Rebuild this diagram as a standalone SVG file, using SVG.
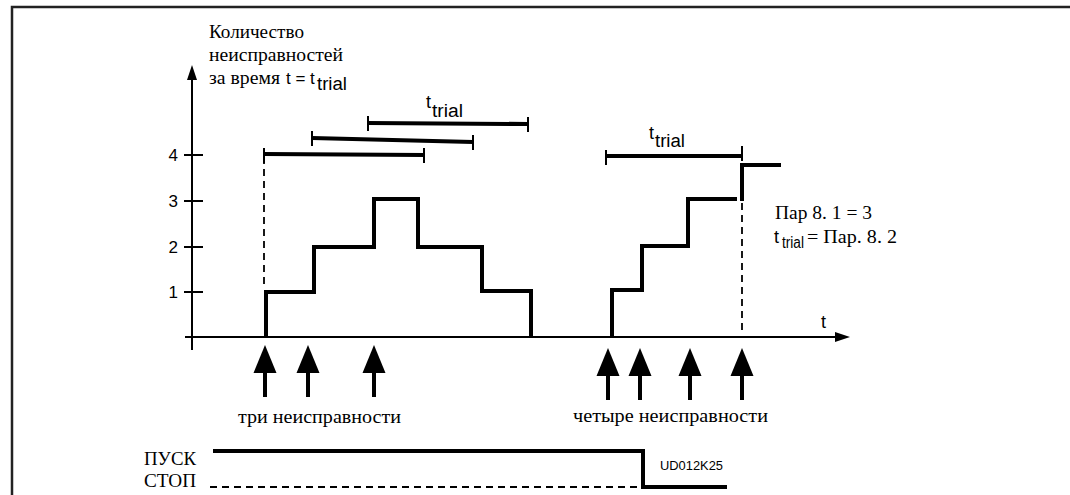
<svg xmlns="http://www.w3.org/2000/svg" xmlns:xlink="http://www.w3.org/1999/xlink" width="1070" height="495" viewBox="0 0 1070 495">
<style>
.ser{font-family:'Liberation Serif','Times New Roman',serif;font-size:18px;fill:#000}
.sans{font-family:'Liberation Sans',Arial,sans-serif;fill:#000}
.thick{fill:none;stroke:#000;stroke-width:4;stroke-linejoin:miter;stroke-linecap:butt}
.thin{fill:none;stroke:#000;stroke-width:2}
.dash{fill:none;stroke:#000;stroke-width:1.8;stroke-dasharray:7,5}
</style>
<defs>
<g id="evt">
<polygon points="-11.5,28 11.5,28 0,0" fill="#000"/>
<line x1="0" y1="26" x2="0" y2="52" stroke="#000" stroke-width="4"/>
</g>
<g id="cap"><line x1="0" y1="-7" x2="0" y2="8" stroke="#000" stroke-width="2"/></g>
</defs>
<rect width="1070" height="495" fill="#fff"/>
<g id="frame">
<path d="M12,495 V7 H1070" fill="none" stroke="#222" stroke-width="2.5"/>
</g>
<g id="axes">
<line x1="192" y1="350" x2="192" y2="76" class="thin"/>
<polygon points="192,65 187,80 197,80" fill="#000"/>
<line x1="185" y1="337" x2="838" y2="337" class="thin"/>
<polygon points="850,337 835,332 835,342" fill="#000"/>
<g class="thin">
<line x1="184" y1="155" x2="203" y2="155"/>
<line x1="184" y1="201" x2="203" y2="201"/>
<line x1="184" y1="247" x2="203" y2="247"/>
<line x1="184" y1="292" x2="203" y2="292"/>
</g>
<g class="sans" font-size="17" text-anchor="end">
<text x="178" y="161">4</text>
<text x="178" y="207">3</text>
<text x="178" y="253">2</text>
<text x="178" y="298">1</text>
</g>
<text class="sans" font-size="18" x="821" y="328">t</text>
<g id="ylabel">
<text class="ser" x="209" y="38" textLength="95" lengthAdjust="spacingAndGlyphs">Количество</text>
<text class="ser" x="209" y="61" textLength="134" lengthAdjust="spacingAndGlyphs">неисправностей</text>
<text class="ser" x="209" y="84" textLength="71" lengthAdjust="spacingAndGlyphs">за время</text>
<text class="sans" font-size="17" x="286" y="84">t = t</text>
<text class="sans" font-size="18" x="317" y="90" textLength="30" lengthAdjust="spacingAndGlyphs">trial</text>
</g>
</g>
<g id="intervals">
<line x1="264" y1="154" x2="424" y2="155" class="thick"/>
<use xlink:href="#cap" x="264" y="155"/><use xlink:href="#cap" x="424" y="155"/>
<line x1="312" y1="138" x2="473" y2="142" class="thick"/>
<use xlink:href="#cap" x="312" y="138"/><use xlink:href="#cap" x="473" y="142"/>
<line x1="368" y1="123" x2="528" y2="124" class="thick"/>
<use xlink:href="#cap" x="368" y="123"/><use xlink:href="#cap" x="528" y="124"/>
<text class="sans" font-size="18" x="426" y="108">t</text>
<text class="sans" font-size="18" x="432" y="117" textLength="31" lengthAdjust="spacingAndGlyphs">trial</text>
<line x1="606" y1="156" x2="742" y2="156" class="thick"/>
<use xlink:href="#cap" x="606" y="157"/><use xlink:href="#cap" x="742" y="153"/>
<text class="sans" font-size="18" x="649" y="139">t</text>
<text class="sans" font-size="18" x="655" y="147" textLength="30" lengthAdjust="spacingAndGlyphs">trial</text>
</g>
<g id="steps">
<line x1="264" y1="157" x2="264" y2="284" class="dash"/>
<path d="M266,337 V292 H314 V247 H374 V199 H418 V247 H482 V291 H531 V337" class="thick"/>
<path d="M612,337 V290 H642 V246 H688 V199 H737" class="thick"/>
<path d="M742,201 V165 H781" class="thick"/>
<line x1="742" y1="203" x2="742" y2="333" class="dash"/>
</g>
<g id="param">
<text class="ser" x="775" y="219" textLength="97" lengthAdjust="spacingAndGlyphs">Пар 8. 1 = 3</text>
<text class="sans" font-size="18" x="774" y="243">t</text>
<text class="sans" font-size="16" x="782" y="248" textLength="22" lengthAdjust="spacingAndGlyphs">trial</text>
<text class="ser" x="807" y="243" textLength="90" lengthAdjust="spacingAndGlyphs">= Пар. 8. 2</text>
</g>
<g id="events">
<use xlink:href="#evt" x="265" y="345"/>
<use xlink:href="#evt" x="308" y="345"/>
<use xlink:href="#evt" x="374" y="345"/>
<text class="ser" x="238" y="423" textLength="163" lengthAdjust="spacingAndGlyphs">три неисправности</text>
<use xlink:href="#evt" x="608" y="348"/>
<use xlink:href="#evt" x="640" y="348"/>
<use xlink:href="#evt" x="690" y="348"/>
<use xlink:href="#evt" x="742" y="348"/>
<text class="ser" x="573" y="422" textLength="195" lengthAdjust="spacingAndGlyphs">четыре неисправности</text>
</g>
<g id="signals">
<text class="ser" x="144" y="465" textLength="52" lengthAdjust="spacingAndGlyphs">ПУСК</text>
<text class="ser" x="144" y="487" textLength="52" lengthAdjust="spacingAndGlyphs">СТОП</text>
<path d="M213,451 H643 V487 H727" class="thick"/>
<line x1="210" y1="487" x2="640" y2="487" class="dash"/>
<text class="sans" font-size="12" x="660" y="470" textLength="63" lengthAdjust="spacingAndGlyphs">UD012K25</text>
</g>
</svg>
